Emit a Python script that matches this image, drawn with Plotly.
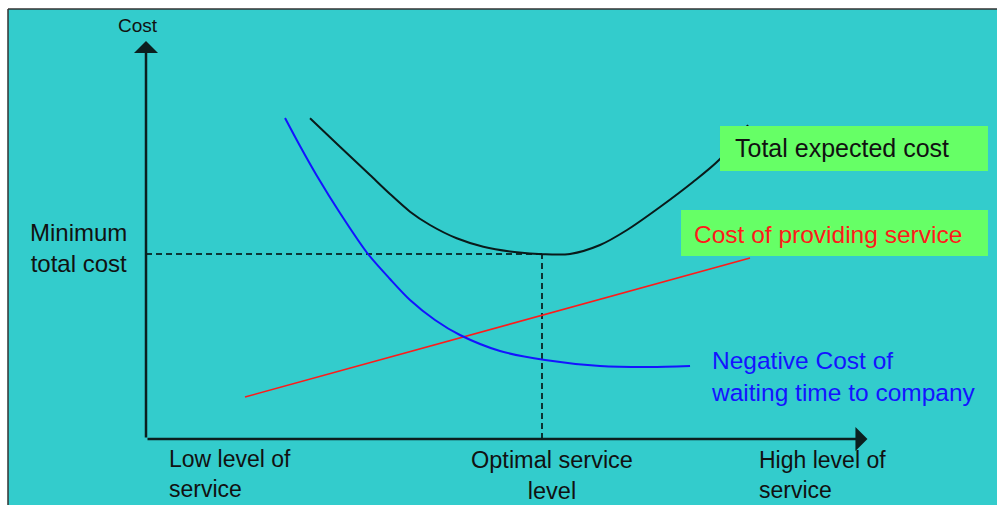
import plotly.graph_objects as go

# Service level (x) and cost (y) readings for each curve
waiting_x = [1.931, 2.139, 2.375, 2.694, 3.083, 3.389, 3.667, 4.014, 4.361, 4.917, 5.542, 6.306, 7.0, 7.556]
waiting_y = [8.025, 7.325, 6.575, 5.65, 4.625, 4.0, 3.475, 2.975, 2.6, 2.2, 1.975, 1.825, 1.8, 1.825]

total_x = [2.278, 2.694, 3.111, 3.389, 3.667, 3.944, 4.315, 4.685, 5.149, 5.518, 5.889,
           6.306, 6.681, 7.139, 7.597, 7.958, 8.361]
total_y = [8.018, 7.308, 6.6, 6.125, 5.683, 5.35, 5.018, 4.808, 4.668, 4.618, 4.625,
           4.85, 5.225, 5.8, 6.425, 6.975, 7.85]

service_x = [1.375, 8.389]
service_y = [1.05, 4.525]

optimal_level = 5.5
minimum_cost = 4.625

x_tick_labels = ["Low level of<br>service", "Optimal service<br>level", "High level of<br>service"]

TEAL = "#33CCCC"
GREEN = "#66FF66"
FONT = "Liberation Sans, Arial, sans-serif"
INK = "#111111"

fig = go.Figure()

# Guide lines to the minimum of the total cost curve
fig.add_trace(go.Scatter(x=[0, optimal_level], y=[minimum_cost, minimum_cost], mode="lines",
                         line=dict(color="black", width=1.5, dash="6px,4px"), hoverinfo="skip"))
fig.add_trace(go.Scatter(x=[optimal_level, optimal_level], y=[0, minimum_cost], mode="lines",
                         line=dict(color="black", width=1.5, dash="6px,4px"), hoverinfo="skip"))

fig.add_trace(go.Scatter(x=service_x, y=service_y, mode="lines",
                         line=dict(color="#FF1A1A", width=1.6), hoverinfo="skip"))
fig.add_trace(go.Scatter(x=waiting_x, y=waiting_y, mode="lines", line_shape="spline",
                         line=dict(color="#1414FF", width=2, smoothing=0.8), hoverinfo="skip"))
fig.add_trace(go.Scatter(x=total_x, y=total_y, mode="lines", line_shape="spline",
                         line=dict(color="#0a1a1a", width=2, smoothing=0.8), hoverinfo="skip"))

annotations = []

# Axes drawn as arrows
annotations.append(dict(x=0, y=9.95, ax=0, ay=0, xref="x", yref="y", axref="x", ayref="y",
                        showarrow=True, arrowhead=1, arrowsize=1.6, arrowwidth=2.5,
                        arrowcolor="#0b1f1f", text=""))
annotations.append(dict(x=10.02, y=0, ax=0, ay=0, xref="x", yref="y", axref="x", ayref="y",
                        showarrow=True, arrowhead=1, arrowsize=1.6, arrowwidth=2.5,
                        arrowcolor="#0b1f1f", text=""))

annotations.append(dict(x=-0.111, y=10.35, xref="x", yref="y", text="Cost", showarrow=False,
                        font=dict(family=FONT, size=19, color=INK)))
annotations.append(dict(x=-0.944, y=4.78, xref="x", yref="y", text="Minimum<br>total cost",
                        showarrow=False, align="center",
                        font=dict(family=FONT, size=24, color=INK)))

# Curve labels
annotations.append(dict(x=8.153, y=7.263, xref="x", yref="y", text="Total expected cost",
                        showarrow=False, xanchor="left",
                        font=dict(family=FONT, size=25, color=INK)))
annotations.append(dict(x=7.583, y=5.125, xref="x", yref="y", text="Cost of providing service",
                        showarrow=False, xanchor="left",
                        font=dict(family=FONT, size=24.5, color="#FF1A1A")))
annotations.append(dict(x=7.82, y=1.5625, xref="x", yref="y",
                        text="Negative Cost of<br>waiting time to company",
                        showarrow=False, xanchor="left", align="left",
                        font=dict(family=FONT, size=24.5, color="#1414FF")))

# Service level labels under the horizontal axis
annotations.append(dict(x=0.292, y=-0.875, xref="x", yref="y", text=x_tick_labels[0],
                        showarrow=False, xanchor="left", align="left",
                        font=dict(family=FONT, size=23, color=INK)))
annotations.append(dict(x=5.639, y=-0.9, xref="x", yref="y", text=x_tick_labels[1],
                        showarrow=False, xanchor="center", align="center",
                        font=dict(family=FONT, size=23.5, color=INK)))
annotations.append(dict(x=8.486, y=-0.9, xref="x", yref="y", text=x_tick_labels[2],
                        showarrow=False, xanchor="left", align="left",
                        font=dict(family=FONT, size=23, color=INK)))

shapes = [
    # Green label boxes
    dict(type="rect", xref="x", yref="y", x0=7.972, x1=11.694, y0=6.7, y1=7.825,
         fillcolor=GREEN, line=dict(width=0), layer="above"),
    dict(type="rect", xref="x", yref="y", x0=7.431, x1=11.694, y0=4.575, y1=5.725,
         fillcolor=GREEN, line=dict(width=0), layer="above"),
    # Frame edge along the top and left
    dict(type="line", xref="paper", yref="paper", x0=0, x1=1.02, y0=1, y1=1,
         line=dict(color="#333333", width=1.5)),
    dict(type="line", xref="paper", yref="paper", x0=0, x1=0, y0=-0.02, y1=1,
         line=dict(color="#333333", width=1.5)),
]

fig.update_layout(
    width=997, height=505,
    margin=dict(l=8, r=0, t=9, b=0),
    paper_bgcolor="white",
    plot_bgcolor=TEAL,
    showlegend=False,
    annotations=annotations,
    shapes=shapes,
    xaxis=dict(range=[-1.9167, 11.8194], visible=False, fixedrange=True),
    yaxis=dict(range=[-1.65, 10.75], visible=False, fixedrange=True),
)

fig.write_html("out.html", config={"displayModeBar": False})
